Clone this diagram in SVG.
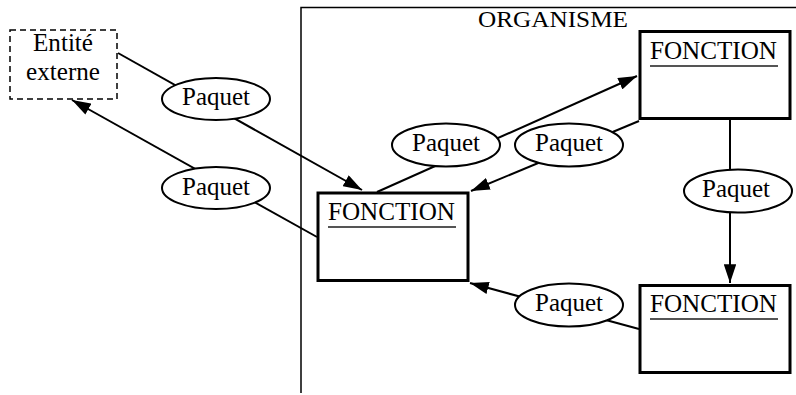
<svg xmlns="http://www.w3.org/2000/svg" width="796" height="395" viewBox="0 0 796 395">
<style>
  .t { font-family: "Liberation Serif", "Times New Roman", serif; fill: #000; }
  .lbl { font-size: 25px; text-anchor: middle; }
  .fn { font-size: 25px; }
  .edge { fill: none; stroke: #000; stroke-width: 2; marker-end: url(#arrow); }
  .ell { fill: #fff; stroke: #000; stroke-width: 2; }
  .box { fill: #fff; stroke: #000; stroke-width: 3; }
  .ul { stroke: #555; stroke-width: 2; }
</style>
<defs>
  <marker id="arrow" viewBox="0 0 18 12" refX="18" refY="6" markerWidth="19" markerHeight="12.5" markerUnits="userSpaceOnUse" orient="auto">
    <path d="M0,0 L18,6 L0,12 z" fill="#000"/>
  </marker>
</defs>
<rect width="796" height="395" fill="#fff"/>
<g id="organisme">
  <path d="M301,393 V7.5 H796" fill="none" stroke="#000" stroke-width="1.5"/>
  <text class="t" x="478" y="27" font-size="24" textLength="150" lengthAdjust="spacingAndGlyphs">ORGANISME</text>
</g>
<g id="connectors">
  <path class="edge" d="M118,53 L362,190"/>
  <path class="edge" d="M317,237 L72,100"/>
  <path class="edge" d="M377,192 L637,76"/>
  <path class="edge" d="M639,121 L471,191"/>
  <path class="edge" d="M730,120 L730,283"/>
  <path class="edge" d="M639,329 L470,283"/>
</g>
<g id="entite-externe">
  <rect x="10" y="30" width="107" height="69" fill="#fff" stroke="#000" stroke-width="1.5" stroke-dasharray="6,4"/>
  <text class="t lbl" x="63" y="50.5" textLength="60" lengthAdjust="spacingAndGlyphs">Entité</text>
  <text class="t lbl" x="63" y="80" textLength="74" lengthAdjust="spacingAndGlyphs">externe</text>
</g>
<g id="paquet1">
  <ellipse class="ell" cx="216" cy="99" rx="54" ry="21"/>
  <text class="t lbl" x="216" y="105" textLength="68" lengthAdjust="spacingAndGlyphs">Paquet</text>
</g>
<g id="paquet2">
  <ellipse class="ell" cx="216" cy="188" rx="54" ry="21"/>
  <text class="t lbl" x="216" y="195" textLength="68" lengthAdjust="spacingAndGlyphs">Paquet</text>
</g>
<g id="paquet3">
  <ellipse class="ell" cx="446" cy="145" rx="54" ry="21.5"/>
  <text class="t lbl" x="446" y="151" textLength="68" lengthAdjust="spacingAndGlyphs">Paquet</text>
</g>
<g id="paquet4">
  <ellipse class="ell" cx="569" cy="145" rx="54" ry="21.5"/>
  <text class="t lbl" x="569" y="151" textLength="68" lengthAdjust="spacingAndGlyphs">Paquet</text>
</g>
<g id="paquet5">
  <ellipse class="ell" cx="738" cy="191" rx="54" ry="21.5"/>
  <text class="t lbl" x="736" y="197" textLength="68" lengthAdjust="spacingAndGlyphs">Paquet</text>
</g>
<g id="paquet6">
  <ellipse class="ell" cx="569" cy="305" rx="54" ry="21.5"/>
  <text class="t lbl" x="569" y="311" textLength="68" lengthAdjust="spacingAndGlyphs">Paquet</text>
</g>
<g id="fonction-a">
  <rect class="box" x="640" y="31.5" width="150" height="87"/>
  <text class="t fn" x="650" y="58.5" textLength="127" lengthAdjust="spacingAndGlyphs">FONCTION</text>
  <line class="ul" x1="650" y1="66" x2="778" y2="66"/>
</g>
<g id="fonction-b">
  <rect class="box" x="318" y="193" width="150" height="87.5"/>
  <text class="t fn" x="328" y="220" textLength="127" lengthAdjust="spacingAndGlyphs">FONCTION</text>
  <line class="ul" x1="328" y1="227" x2="456" y2="227"/>
</g>
<g id="fonction-c">
  <rect class="box" x="640" y="285.5" width="150" height="87"/>
  <text class="t fn" x="650" y="312" textLength="127" lengthAdjust="spacingAndGlyphs">FONCTION</text>
  <line class="ul" x1="650" y1="319" x2="778" y2="319"/>
</g>
</svg>
